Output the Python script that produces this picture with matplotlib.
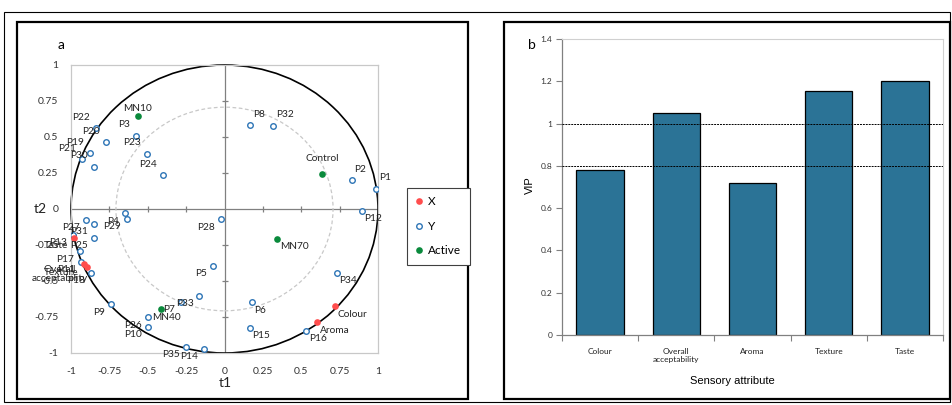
import matplotlib
matplotlib.use("Agg")
import matplotlib.pyplot as plt
from matplotlib.patches import Rectangle, Circle
from matplotlib.lines import Line2D
import numpy as np

# ---------------- data: panel a (correlation circle) ----------------
y_labels = ["P1", "P2", "P3", "P4", "P5", "P6", "P7", "P8", "P9", "P10",
            "P11", "P12", "P13", "P14", "P15", "P16", "P17", "P18", "P19", "P20",
            "P21", "P22", "P23", "P24", "P25", "P26", "P27", "P28", "P29", "P30",
            "P31", "P32", "P33", "P34", "P35"]
y_t1 = [0.989, 0.828, -0.575, -0.647, -0.072, 0.176, -0.283, 0.168, -0.741, -0.501,
        -0.935, 0.893, -0.990, -0.134, 0.163, 0.532, -0.943, -0.867, -0.878, -0.773,
        -0.926, -0.835, -0.503, -0.399, -0.850, -0.501, -0.900, -0.022, -0.636, -0.850,
        -0.850, 0.314, -0.163, 0.730, -0.250]
y_t2 = [0.139, 0.201, 0.509, -0.030, -0.394, -0.648, -0.644, 0.583, -0.662, -0.817,
        -0.368, -0.012, -0.178, -0.972, -0.824, -0.845, -0.292, -0.444, 0.387, 0.463,
        0.345, 0.560, 0.382, 0.236, -0.201, -0.752, -0.076, -0.072, -0.067, 0.294,
        -0.102, 0.578, -0.602, -0.444, -0.956]

x_labels = ["Colour", "Aroma", "Taste", "Texture", "Overall\nacceptability"]
x_t1 = [0.717, 0.603, -0.980, -0.915, -0.898]
x_t2 = [-0.674, -0.785, -0.199, -0.384, -0.400]

act_labels = ["MN10", "Control", "MN70", "MN40"]
act_t1 = [-0.564, 0.634, 0.342, -0.414]
act_t2 = [0.648, 0.241, -0.208, -0.692]

# ---------------- data: panel b (VIP) ----------------
attributes = ["Colour", "Overall\nacceptability", "Aroma", "Texture", "Taste"]
vip = [0.78, 1.05, 0.72, 1.155, 1.20]
vip_thresholds = [0.8, 1.0]

# ---------------- styling ----------------
W, H = 952, 405
PX = 0.72  # points per pixel at 100 dpi
FONT = "Lato"
BLUE = "#2e75b6"
RED = "#ff4d4d"
GREEN = "#0a8a3c"
BAR = "#2b7396"

# label placement overrides for a few labels: (ha, dx_px, dy_px) with dy positive = down
label_override = {
    "MN10": ("center", 0, -7),
    "Control": ("center", 0, -15.5),
    "MN40": ("center", 5, 8.5),
    "Overall\nacceptability": ("center", -27, 7.5),
}

fig = plt.figure(figsize=(W / 100, H / 100), dpi=100)


def fx(px):
    return px / W


def fy(py):
    return 1 - py / H


# outer thin frame and panel borders
fig.add_artist(Rectangle((fx(4), fy(402)), fx(950) - fx(4), fy(12) - fy(402),
                         transform=fig.transFigure, fill=False, lw=0.8, ec="black"))
fig.add_artist(Rectangle((fx(17), fy(399)), fx(468) - fx(17), fy(22) - fy(399),
                         transform=fig.transFigure, fill=False, lw=1.6, ec="black"))
fig.add_artist(Rectangle((fx(504), fy(399)), fx(950) - fx(504), fy(22) - fy(399),
                         transform=fig.transFigure, fill=False, lw=1.6, ec="black"))

# ---------------- panel a ----------------
ax1 = fig.add_axes([fx(71), fy(353), (378 - 71) / W, (353 - 65) / H])
ax1.set_xlim(-1, 1)
ax1.set_ylim(-1, 1)
for s in ax1.spines.values():
    s.set_color("#c8c8c8")
    s.set_linewidth(0.9)
ticks = np.arange(-1, 1.01, 0.25)
ax1.set_xticks(ticks)
ax1.set_yticks(ticks)
fmt = lambda v: "0" if abs(v) < 1e-9 else ("%g" % v)
ax1.set_xticklabels([fmt(v) for v in ticks], fontfamily=FONT, fontsize=7.5, color="#333333")
ax1.set_yticklabels([fmt(v) for v in ticks], fontfamily=FONT, fontsize=7.5, color="#333333")
ax1.tick_params(length=0, pad=9)
ax1.tick_params(axis="x", pad=10)

# inner axes through origin
ax1.axhline(0, color="#808080", lw=0.9, zorder=1)
ax1.axvline(0, color="#808080", lw=0.9, zorder=1)
inner = ticks[(ticks != 0) & (np.abs(ticks) < 1)]
ax1.plot(inner, np.zeros_like(inner), ls="none", marker="|", ms=5, mew=0.9, color="#808080", zorder=1)
ax1.plot(np.zeros_like(inner), inner, ls="none", marker="_", ms=5, mew=0.9, color="#808080", zorder=1)

ax1.add_patch(Circle((0, 0), 1.0, fill=False, ec="black", lw=1.2, zorder=2, clip_on=False))
ax1.add_patch(Circle((0, 0), np.sqrt(0.5), fill=False, ec="#c8c8c8", lw=0.9, ls=(0, (3, 2)), zorder=1))

ax1.plot(y_t1, y_t2, ls="none", marker="o", ms=4, mfc="white", mec=BLUE, mew=1.0, zorder=4)
ax1.plot(x_t1, x_t2, ls="none", marker="o", ms=4.8, mfc=RED, mec=RED, mew=0, zorder=5)
ax1.plot(act_t1, act_t2, ls="none", marker="o", ms=4.8, mfc=GREEN, mec=GREEN, mew=0, zorder=5)


def put_label(name, x, y):
    if name in label_override:
        ha, dx, dy = label_override[name]
    else:
        if x < 0:
            ha, dx = "right", -6
        else:
            ha, dx = "left", 3
        dy = -11 if y >= 0 else 8
    ax1.annotate(name, (x, y), xytext=(dx * PX, -dy * PX), textcoords="offset points",
                 ha=ha, va="center", fontsize=7.3, fontfamily=FONT, color="#222222",
                 multialignment="center", linespacing=0.95, zorder=6, annotation_clip=False)


for n, a, b in zip(y_labels, y_t1, y_t2):
    put_label(n, a, b)
for n, a, b in zip(x_labels, x_t1, x_t2):
    put_label(n, a, b)
for n, a, b in zip(act_labels, act_t1, act_t2):
    put_label(n, a, b)

fig.text(fx(73), fy(383), "t1", fontsize=10, fontfamily=FONT, ha="center", va="center",
         transform=fig.transFigure) if False else None
fig.text(fx(225), fy(383), "t1", fontsize=10, fontfamily=FONT, ha="center", va="center", color="#222222")
fig.text(fx(40), fy(209), "t2", fontsize=10, fontfamily=FONT, ha="center", va="center", color="#222222")
fig.text(fx(61), fy(45), "a", fontsize=10, fontfamily=FONT, ha="center", va="center")

handles = [Line2D([], [], ls="none", marker="o", ms=4.8, mfc=RED, mec=RED, mew=0),
           Line2D([], [], ls="none", marker="o", ms=4, mfc="white", mec=BLUE, mew=1.0),
           Line2D([], [], ls="none", marker="o", ms=4.8, mfc=GREEN, mec=GREEN, mew=0)]
leg = fig.legend(handles, ["X", "Y", "Active"], loc="upper left",
                 bbox_to_anchor=(fx(407), fy(188)), frameon=True, fancybox=False,
                 edgecolor="#404040", framealpha=1, borderaxespad=0, handlelength=0.6,
                 handletextpad=0.5, labelspacing=1.15, borderpad=0.7,
                 prop={"family": FONT, "size": 8.5})
leg.get_frame().set_linewidth(0.8)

# ---------------- panel b ----------------
ax2 = fig.add_axes([fx(562), fy(335), (943 - 562) / W, (335 - 39) / H])
xpos = np.arange(len(attributes))
ax2.bar(xpos, vip, width=0.62, color=BAR, edgecolor="black", linewidth=0.9, zorder=2)
for t in vip_thresholds:
    ax2.axhline(t, color="black", lw=0.7, ls=(0, (2, 1)), zorder=3)
ax2.set_xlim(-0.5, len(attributes) - 0.5)
ax2.set_ylim(0, 1.4)
ax2.set_yticks(np.arange(0, 1.41, 0.2))
ax2.set_yticklabels(["0", "0.2", "0.4", "0.6", "0.8", "1", "1.2", "1.4"],
                    fontfamily=FONT, fontsize=6, color="#333333")
ax2.set_xticks(xpos)
ax2.set_xticklabels(attributes, fontfamily=FONT, fontsize=6, color="#222222", linespacing=1.3)
ax2.set_xticks(np.arange(-0.5, len(attributes), 1.0), minor=True)
ax2.tick_params(axis="x", which="major", length=0, pad=9)
ax2.tick_params(axis="x", which="minor", length=4, width=0.8, color="#808080", direction="out")
ax2.tick_params(axis="y", length=4, width=0.8, color="#808080", pad=3)
for k in ["left", "bottom"]:
    ax2.spines[k].set_color("#808080")
    ax2.spines[k].set_linewidth(0.9)
for k in ["top", "right"]:
    ax2.spines[k].set_color("#d0d0d0")
    ax2.spines[k].set_linewidth(0.8)

fig.text(fx(530), fy(185), "VIP", fontsize=8, fontfamily="Liberation Sans", rotation=90,
         ha="center", va="center")
fig.text(fx(732), fy(381), "Sensory attribute", fontsize=8, fontfamily="Liberation Sans",
         ha="center", va="center")
fig.text(fx(532), fy(45), "b", fontsize=10, fontfamily=FONT, ha="center", va="center")

fig.savefig("out.png", dpi=100)
